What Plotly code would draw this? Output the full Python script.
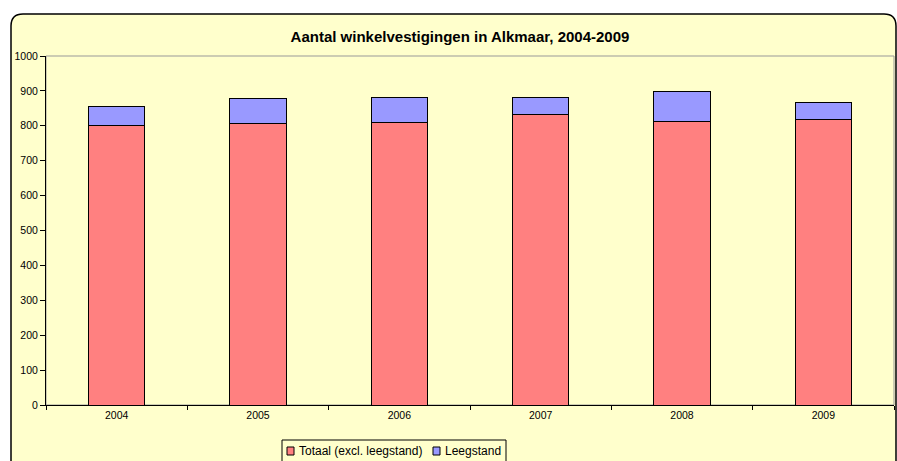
import plotly.graph_objects as go

years = ["2004", "2005", "2006", "2007", "2008", "2009"]
totaal = [802, 806, 810, 831, 813, 819]
leegstand = [54, 71, 70, 49, 86, 47]
y_ticks = [0, 100, 200, 300, 400, 500, 600, 700, 800, 900, 1000]
series_names = ["Totaal (excl. leegstand)", "Leegstand"]
series_colors = ["#FF8080", "#9999FF"]

W, H = 897, 461
# plot area in screen pixels: x 46..894, y 56..405
L, R, T, B = 46, 897 - 894, 56, 461 - 405
pw, ph = W - L - R, H - T - B

def px(x):  # screen x -> paper
    return (x - L) / pw

def py(y):  # screen y -> paper
    return (H - B - y) / ph

font = "Arial, Liberation Sans, sans-serif"
bg = "#FFFFCC"

fig = go.Figure()
for vals, name, col in zip([totaal, leegstand], series_names, series_colors):
    fig.add_trace(go.Bar(x=years, y=vals, name=name, showlegend=False,
                         marker=dict(color=col, line=dict(color="black", width=1))))

# rounded outer frame
x0, x1 = px(11), px(896)
y0, y1 = py(475), py(14)
rx, ry = 12 / pw, 12 / ph
path = (f"M {x0+rx},{y1} L {x1-rx},{y1} Q {x1},{y1} {x1},{y1-ry} "
        f"L {x1},{y0+ry} Q {x1},{y0} {x1-rx},{y0} L {x0+rx},{y0} "
        f"Q {x0},{y0} {x0},{y0+ry} L {x0},{y1-ry} Q {x0},{y1} {x0+rx},{y1} Z")

shapes = [
    dict(type="path", xref="paper", yref="paper", path=path,
         fillcolor=bg, line=dict(color="black", width=1.5), layer="below"),
    dict(type="rect", xref="paper", yref="paper", x0=0, x1=1, y0=0, y1=1,
         line=dict(color="#999999", width=1), fillcolor="rgba(0,0,0,0)", layer="below"),
    # legend box
    dict(type="rect", xref="paper", yref="paper", x0=px(282), x1=px(506), y0=py(470), y1=py(440),
         line=dict(color="black", width=1), fillcolor=bg),
]
annotations = []
legend_items = [(287, 297), (433, 443)]
for (sx, tx), name, col in zip(legend_items, series_names, series_colors):
    shapes.append(dict(type="rect", xref="paper", yref="paper", x0=px(sx), x1=px(sx + 7),
                       y0=py(455), y1=py(447), line=dict(color="black", width=1), fillcolor=col))
    annotations.append(dict(text=name, xref="paper", yref="paper", x=px(tx), y=py(451),
                            xanchor="left", yanchor="middle", showarrow=False,
                            font=dict(size=12, family=font, color="black")))

fig.update_layout(
    width=W, height=H,
    margin=dict(l=L, r=R, t=T, b=B, autoexpand=False),
    barmode="stack", bargap=0.6,
    paper_bgcolor="white", plot_bgcolor=bg,
    font=dict(family=font, size=10.5, color="black"),
    title=dict(text="<b>Aantal winkelvestigingen in Alkmaar, 2004-2009</b>",
               x=460 / W, xanchor="center", xref="container",
               y=1 - 37 / H, yanchor="middle", yref="container",
               font=dict(size=15, family=font, color="black")),
    showlegend=False,
    hovermode=False,
    shapes=shapes,
    annotations=annotations,
)
fig.update_xaxes(type="category", showgrid=False, showline=True, linecolor="black", linewidth=1,
                 ticks="outside", tickson="boundaries", ticklen=4, tickcolor="black",
                 tickfont=dict(size=10.5), fixedrange=True)
fig.update_yaxes(range=[0, 1000], tickvals=y_ticks, showgrid=False, zeroline=False,
                 showline=True, linecolor="black", linewidth=1,
                 ticks="outside", ticklen=5, tickcolor="black",
                 tickfont=dict(size=10.5), fixedrange=True)

fig.write_html("out.html", config={"displayModeBar": False, "staticPlot": True},
               post_script="document.body.style.margin='0';document.body.style.overflow='hidden';")
